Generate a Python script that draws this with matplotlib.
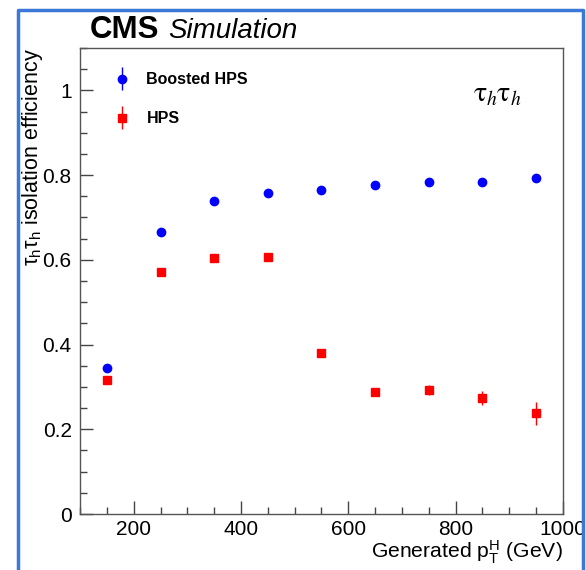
import matplotlib
matplotlib.use("Agg")
import matplotlib.pyplot as plt
from matplotlib.lines import Line2D
from matplotlib.ticker import MultipleLocator, FuncFormatter
from matplotlib.legend_handler import HandlerErrorbar

plt.rcParams['font.family'] = ['Liberation Sans', 'DejaVu Sans']
plt.rcParams['mathtext.fontset'] = 'custom'
plt.rcParams['mathtext.rm'] = 'Liberation Sans'
plt.rcParams['mathtext.it'] = 'Liberation Sans:italic'
plt.rcParams['mathtext.default'] = 'regular'

# generated Higgs pT bin centres (GeV)
pt_bins = [150, 250, 350, 450, 550, 650, 750, 850, 950]

boosted_eff = [0.345, 0.666, 0.738, 0.757, 0.765, 0.776, 0.783, 0.784, 0.792]
boosted_err = [0.005, 0.004, 0.004, 0.004, 0.005, 0.006, 0.006, 0.007, 0.009]

hps_eff = [0.316, 0.572, 0.605, 0.606, 0.380, 0.288, 0.293, 0.274, 0.238]
hps_err = [0.005, 0.006, 0.006, 0.007, 0.008, 0.009, 0.011, 0.017, 0.027]

fig = plt.figure(figsize=(5.86, 5.70), dpi=100)
ax = fig.add_axes([80 / 586, 56 / 570, 483 / 586, 466 / 570])

b = ax.errorbar(pt_bins, boosted_eff, yerr=boosted_err, fmt='o', color='#0000ff',
                ms=6, elinewidth=1, capsize=0, label='Boosted HPS')
h = ax.errorbar(pt_bins, hps_eff, yerr=hps_err, fmt='s', color='#ff0000',
                ms=6, elinewidth=1, capsize=0, label='HPS')

ax.set_xlim(100, 1000)
ax.set_ylim(0, 1.1)

ax.xaxis.set_major_locator(MultipleLocator(200))
ax.xaxis.set_minor_locator(MultipleLocator(50))
ax.yaxis.set_major_locator(MultipleLocator(0.2))
ax.yaxis.set_minor_locator(MultipleLocator(0.05))
ax.yaxis.set_major_formatter(FuncFormatter(lambda v, p: '%g' % round(v, 2)))
ax.tick_params(which='both', direction='in', top=False, right=False,
               labelsize=15, color='#444444', pad=6)
ax.tick_params(axis='x', which='both', pad=4)
ax.tick_params(which='major', length=9.5, width=1)
ax.tick_params(which='minor', length=5, width=1)
for s in ax.spines.values():
    s.set_color('#555555')
    s.set_linewidth(1)

ax.set_xlabel(r'Generated $p_{T}^{H}$ (GeV)', fontsize=15.2, loc='right', labelpad=0)
ax.set_ylabel(r'$\tau_{h}\tau_{h}$ isolation efficiency', fontsize=15.5, loc='top')
ax.yaxis.set_label_coords(-0.072, 1.0)

leg = ax.legend(handles=[b, h], loc='upper left', bbox_to_anchor=(0.068, 0.948),
                frameon=False, prop={'weight': 'bold', 'size': 11.5},
                handlelength=1.2, handletextpad=0.9, labelspacing=1.5,
                borderpad=0, borderaxespad=0,
                handler_map={type(b): HandlerErrorbar(xerr_size=0.7, yerr_size=0.7)})

ax.text(0.865, 0.9, r'$\mathrm{\tau}_{\mathit{h}}\mathrm{\tau}_{\mathit{h}}$',
        transform=ax.transAxes, fontsize=20, ha='center', va='center',
        math_fontfamily='stix')

fig.text(90 / 586, 1 - 38 / 570, 'CMS', fontsize=22.5, fontweight='bold', va='baseline')
fig.text(168 / 586, 1 - 38 / 570, 'Simulation', fontsize=20, style='italic', va='baseline')

# blue selection frame around the screenshot (left, top, right edges)
frame_x = [17.5 / 586, 17.5 / 586, 582.5 / 586, 582.5 / 586]
frame_y = [0, 1 - 10 / 570, 1 - 10 / 570, 0]
fig.lines.append(Line2D(frame_x, frame_y, transform=fig.transFigure,
                        color='#3c78d8', linewidth=2.5, zorder=10))

fig.savefig('out.png', dpi=100)
